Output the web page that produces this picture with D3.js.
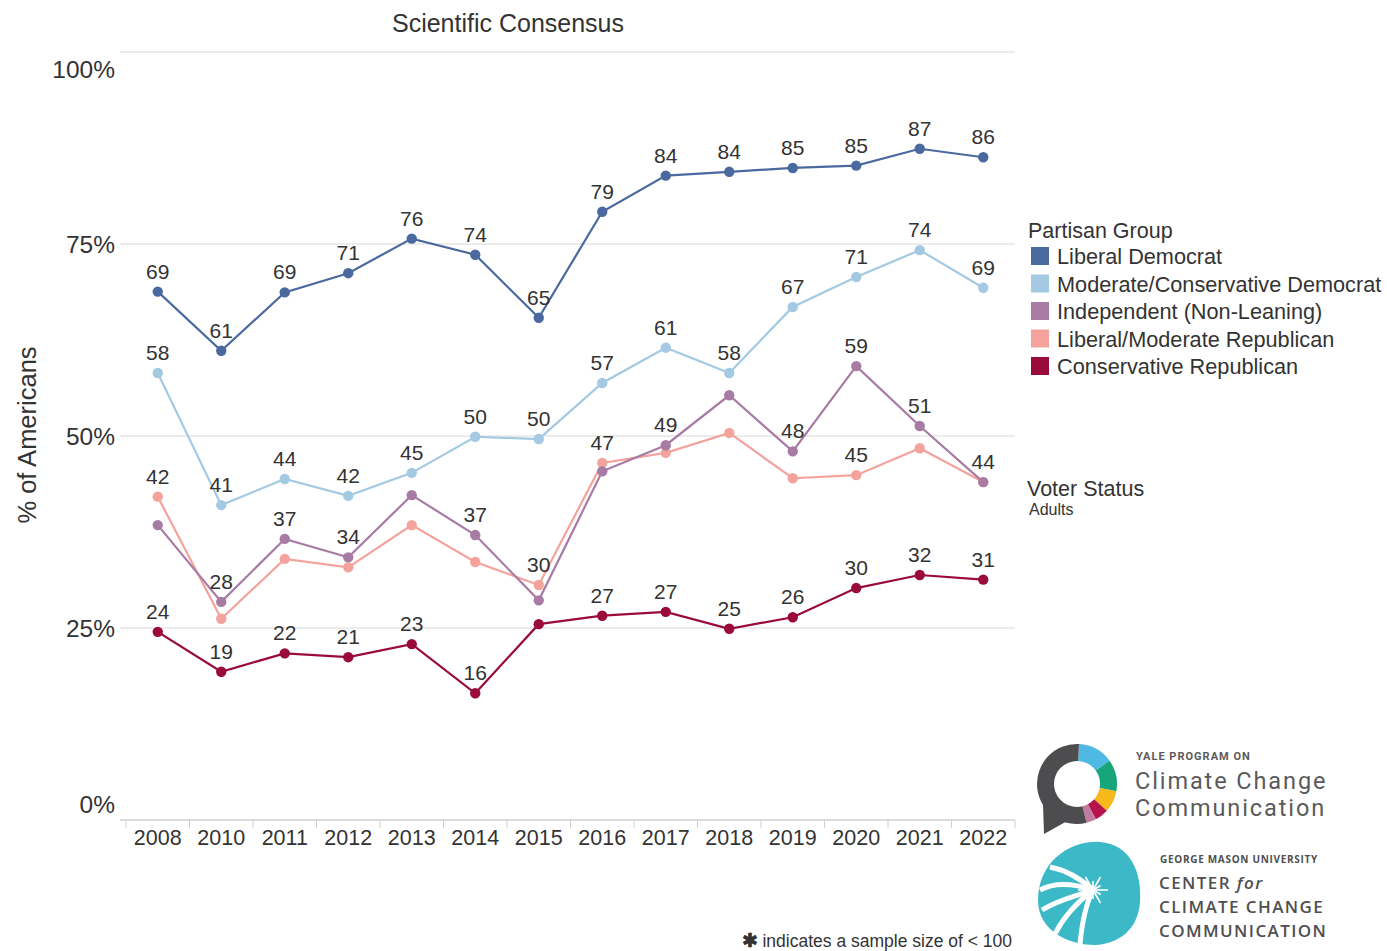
<!DOCTYPE html>
<html>
<head>
<meta charset="utf-8">
<script src="https://cdn.jsdelivr.net/npm/d3@7"></script>
<style>
  html, body { margin: 0; padding: 0; background: #fff; }
  svg { display: block; font-family: "Liberation Sans", Arial, Helvetica, sans-serif; }
</style>
</head>
<body>
<svg id="chart" width="1387" height="951"></svg>
<script>
// ---------------- DATA ----------------
const years = ["2008","2010","2011","2012","2013","2014","2015","2016","2017","2018","2019","2020","2021","2022"];
const seriesNames = ["Liberal Democrat","Moderate/Conservative Democrat","Independent (Non-Leaning)","Liberal/Moderate Republican","Conservative Republican"];
const seriesColors = ["#4a699f","#a3c9e3","#a77ba3","#f4a39c","#9a0a3b"];

const libDem   = [68.8, 61.1, 68.7, 71.2, 75.7, 73.6, 65.4, 79.2, 83.9, 84.4, 84.9, 85.2, 87.4, 86.3];
const modDem   = [58.2, 41.0, 44.4, 42.2, 45.2, 49.9, 49.6, 56.9, 61.5, 58.2, 66.8, 70.7, 74.2, 69.3];
const indep    = [38.4, 28.4, 36.6, 34.2, 42.3, 37.1, 28.6, 45.4, 48.8, 55.3, 48.0, 59.1, 51.3, 44.0];
const libRep   = [42.1, 26.2, 34.0, 32.9, 38.4, 33.6, 30.6, 46.5, 47.8, 50.4, 44.5, 44.9, 48.4, 44.0];
const consRep  = [24.5, 19.3, 21.7, 21.2, 22.9, 16.5, 25.5, 26.6, 27.1, 24.9, 26.4, 30.2, 31.9, 31.3];

const libDemLabels  = ["69","61","69","71","76","74","65","79","84","84","85","85","87","86"];
const modDemLabels  = ["58","41","44","42","45","50","50","57","61","58","67","71","74","69"];
const indepLabels   = [null,"28","37","34",null,"37",null,null,"49",null,"48","59","51","44"];
const libRepLabels  = ["42",null,null,null,null,null,"30","47",null,null,null,"45",null,null];
const consRepLabels = ["24","19","22","21","23","16",null,"27","27","25","26","30","32","31"];

const yTicks = [0, 25, 50, 75, 100];
const yTickLabels = ["0%","25%","50%","75%","100%"];

// ---------------- LAYOUT ----------------
const svg = d3.select("#chart");
const plot = { left: 126, right: 1015, top: 52, bottom: 820 };

const x = d3.scaleBand().domain(years).range([plot.left, plot.right]).paddingInner(0).paddingOuter(0);
const y = d3.scaleLinear().domain([0, 100]).range([plot.bottom, plot.top]);

// Title
svg.append("text")
  .attr("x", 508).attr("y", 32)
  .attr("text-anchor", "middle")
  .attr("font-size", 25).attr("fill", "#333")
  .text("Scientific Consensus");

// gridlines
svg.append("g").selectAll("line")
  .data(yTicks.filter(d => d > 0))
  .join("line")
  .attr("x1", 120).attr("x2", plot.right)
  .attr("y1", d => y(d)).attr("y2", d => y(d))
  .attr("stroke", "#d9d9d9").attr("stroke-width", 1);

// y tick labels
svg.append("g").selectAll("text")
  .data(yTicks)
  .join("text")
  .attr("x", 115)
  .attr("y", d => d === 100 ? y(d) + 26 : (d === 0 ? y(d) - 7 : y(d) + 9))
  .attr("text-anchor", "end")
  .attr("font-size", 24.5).attr("fill", "#333")
  .text((d, i) => yTickLabels[i]);

// y axis title
svg.append("text")
  .attr("transform", "translate(36,435) rotate(-90)")
  .attr("text-anchor", "middle")
  .attr("font-size", 25.5).attr("fill", "#333")
  .text("% of Americans");

// x axis
const xAxis = d3.axisBottom(x).tickSize(0).tickPadding(10);
const gx = svg.append("g").attr("transform", `translate(0,${plot.bottom})`).call(xAxis);
gx.select(".domain").remove();
gx.selectAll("text").attr("font-size", 21.5).attr("fill", "#333")
  .attr("font-family", "Liberation Sans, Arial, sans-serif");
svg.append("line").attr("x1", 120).attr("x2", plot.right)
  .attr("y1", plot.bottom).attr("y2", plot.bottom)
  .attr("stroke", "#cfcfcf").attr("stroke-width", 1.5);
svg.append("g").selectAll("line")
  .data(years.concat(["end"]))
  .join("line")
  .attr("x1", (d, i) => plot.left + i * x.step())
  .attr("x2", (d, i) => plot.left + i * x.step())
  .attr("y1", plot.bottom).attr("y2", plot.bottom + 8)
  .attr("stroke", "#cfcfcf").attr("stroke-width", 1);

// series
const allSeries = [
  { name: seriesNames[0], color: seriesColors[0], values: libDem, labels: libDemLabels },
  { name: seriesNames[1], color: seriesColors[1], values: modDem, labels: modDemLabels },
  { name: seriesNames[3], color: seriesColors[3], values: libRep, labels: libRepLabels },
  { name: seriesNames[2], color: seriesColors[2], values: indep, labels: indepLabels },
  { name: seriesNames[4], color: seriesColors[4], values: consRep, labels: consRepLabels }
];

const cx = d => x(d) + x.bandwidth() / 2;
const line = d3.line().x(d => cx(d.year)).y(d => y(d.v));

allSeries.forEach(s => {
  const pts = years.map((yr, i) => ({ year: yr, v: s.values[i], label: s.labels[i] }));
  const g = svg.append("g");
  g.append("path").datum(pts)
    .attr("d", line).attr("fill", "none")
    .attr("stroke", s.color).attr("stroke-width", 2.2);
  g.selectAll("circle").data(pts).join("circle")
    .attr("cx", d => cx(d.year)).attr("cy", d => y(d.v))
    .attr("r", 5.2).attr("fill", s.color);
});

// labels on top
allSeries.forEach(s => {
  const pts = years.map((yr, i) => ({ year: yr, v: s.values[i], label: s.labels[i] })).filter(d => d.label);
  svg.append("g").selectAll("text").data(pts).join("text")
    .attr("x", d => cx(d.year)).attr("y", d => y(d.v) - 13)
    .attr("text-anchor", "middle")
    .attr("font-size", 21).attr("fill", "#333")
    .text(d => d.label);
});

// legend
const lg = svg.append("g");
lg.append("text").attr("x", 1028).attr("y", 238).attr("font-size", 21.5).attr("fill", "#333").text("Partisan Group");
seriesNames.forEach((n, i) => {
  const yy = 256 + i * 27.5;
  lg.append("rect").attr("x", 1031).attr("y", yy - 9).attr("width", 18).attr("height", 18).attr("fill", seriesColors[i]);
  lg.append("text").attr("x", 1057).attr("y", yy + 8).attr("font-size", 21.7).attr("fill", "#333").text(n);
});
lg.append("text").attr("x", 1027).attr("y", 496).attr("font-size", 21.5).attr("fill", "#333").text("Voter Status");
lg.append("text").attr("x", 1029).attr("y", 515).attr("font-size", 16).attr("fill", "#333").text("Adults");

// footnote
svg.append("text").attr("x", 1012).attr("y", 947).attr("text-anchor", "end")
  .attr("font-size", 17.5).attr("fill", "#333")
  .html('<tspan font-size="19" font-weight="bold">✱</tspan> indicates a sample size of &lt; 100');

// ---------------- LOGOS ----------------
// Yale ring logo
const yale = svg.append("g").attr("transform", "translate(1077,784)");
const R = 40, r = 23;
yale.append("path").attr("d", "M-34,20 L-33,50 L-8,36 Z").attr("fill", "#4d4d4f");
const arc = d3.arc().innerRadius(r).outerRadius(R);
const segs = [
  { s: 0.05, e: 0.95, c: "#4fb9e3" },
  { s: 0.95, e: 1.75, c: "#17a67a" },
  { s: 1.75, e: 2.3, c: "#f6b81a" },
  { s: 2.3, e: 2.65, c: "#b5134b" },
  { s: 2.65, e: 2.9, c: "#c27ba0" },
  { s: 2.9, e: 2 * Math.PI + 0.05, c: "#4d4d4f" }
];
segs.forEach(sg => {
  yale.append("path").attr("d", arc({ startAngle: sg.s, endAngle: sg.e })).attr("fill", sg.c);
});
const yt = svg.append("g").attr("font-family", "Roboto, 'Open Sans', sans-serif").attr("fill", "#5a5a5c");
yt.append("text").attr("x", 1136).attr("y", 760).attr("font-size", 11).attr("font-weight", "bold").attr("letter-spacing", 1).text("YALE PROGRAM ON");
yt.append("text").attr("x", 1135).attr("y", 789).attr("font-size", 23.5).attr("letter-spacing", 1.9).text("Climate Change");
yt.append("text").attr("x", 1135).attr("y", 816).attr("font-size", 23.5).attr("letter-spacing", 1.9).text("Communication");

// GMU logo
const gmu = svg.append("g").attr("transform", "translate(1090,892)");
gmu.append("path")
  .attr("d", "M-52,8 C-52,-30 -20,-52 10,-50 C40,-48 52,-20 50,10 C48,38 28,52 5,53 C-20,53 -52,40 -52,8 Z")
  .attr("fill", "#3bb9c6");
const sw = [
  "M-50,-2 C-35,-10 -15,-8 3,-2",
  "M-48,18 C-32,8 -14,4 3,-2",
  "M-35,42 C-25,22 -10,8 3,-2",
  "M-10,52 C-8,30 -4,12 3,-2",
  "M-40,-25 C-25,-22 -10,-14 3,-2"
];
sw.forEach(d => gmu.append("path").attr("d", d).attr("fill", "none").attr("stroke", "#fff").attr("stroke-width", 5));
for (let i = 0; i < 12; i++) {
  const a = i * Math.PI / 6;
  const len = i % 2 ? 9 : 15;
  gmu.append("line").attr("x1", 3).attr("y1", -2)
    .attr("x2", 3 + len * Math.cos(a)).attr("y2", -2 + len * Math.sin(a))
    .attr("stroke", "#fff").attr("stroke-width", 1.6);
}
const gt = svg.append("g").attr("font-family", "'Open Sans', sans-serif").attr("fill", "#4f4f51");
gt.append("text").attr("x", 1160).attr("y", 863).attr("font-size", 10).attr("font-weight", "bold").attr("letter-spacing", 0.7).text("GEORGE MASON UNIVERSITY");
gt.append("text").attr("x", 1159).attr("y", 889).attr("font-size", 17).attr("font-weight", 600).attr("letter-spacing", 1.4)
  .html('CENTER <tspan font-style="italic">for</tspan>');
gt.append("text").attr("x", 1159).attr("y", 913).attr("font-size", 17).attr("font-weight", 600).attr("letter-spacing", 1.4).text("CLIMATE CHANGE");
gt.append("text").attr("x", 1159).attr("y", 937).attr("font-size", 17).attr("font-weight", 600).attr("letter-spacing", 1.4).text("COMMUNICATION");
</script>
</body>
</html>
